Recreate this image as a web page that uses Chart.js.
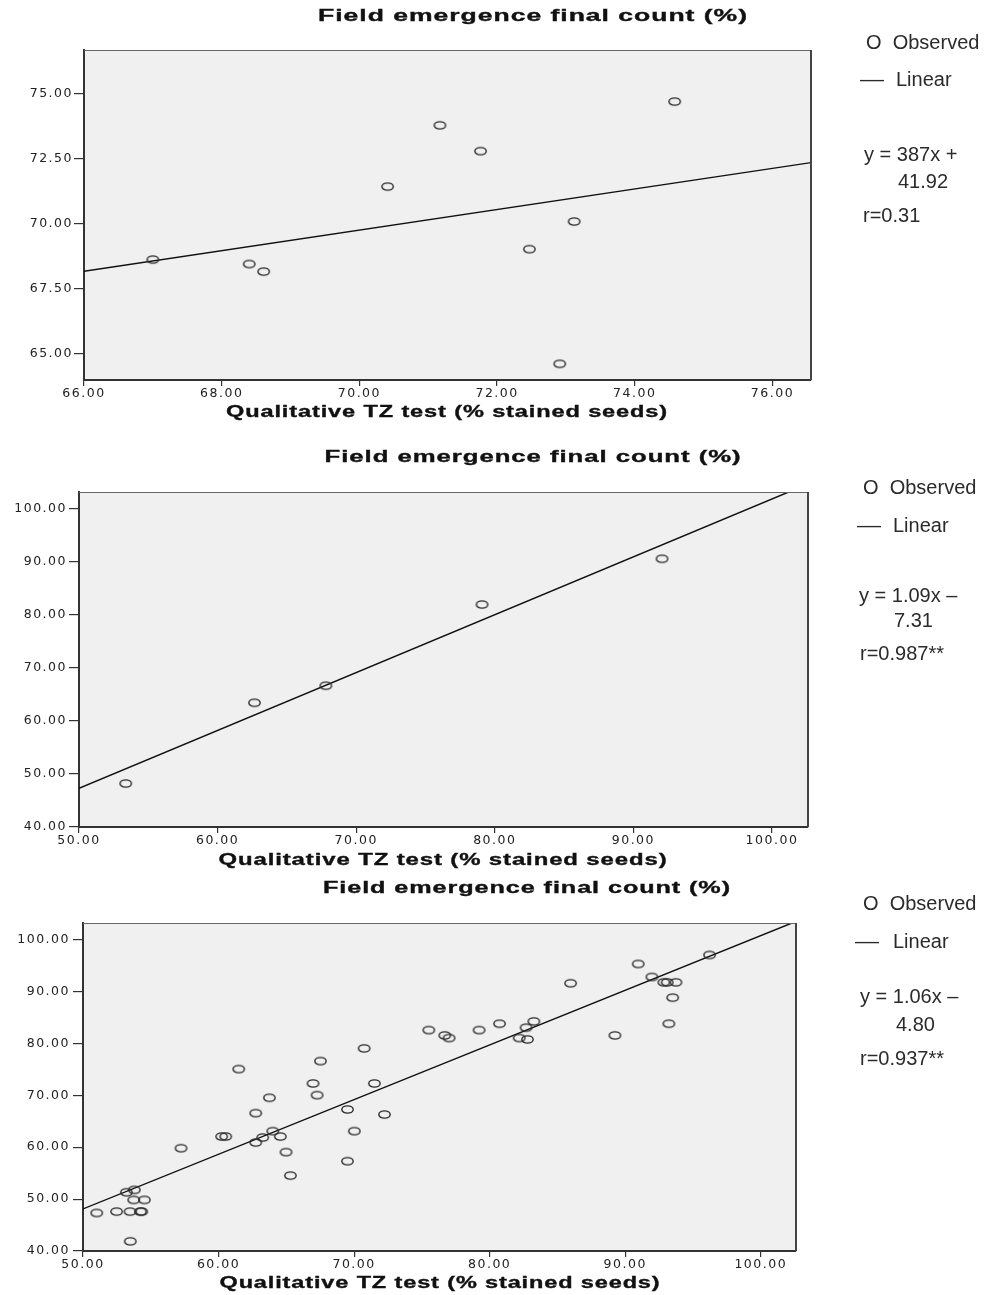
<!DOCTYPE html>
<html>
<head>
<meta charset="utf-8">
<script src="https://cdn.jsdelivr.net/npm/chart.js@4.4.1/dist/chart.umd.min.js"></script>
<style>
  body { margin: 0; background: #fff; }
  #page { position: relative; width: 988px; height: 1295px; overflow: hidden; }
  canvas { position: absolute; left: 0; }
  .note { position: absolute; font-family: "Liberation Sans", Arial, sans-serif; font-size: 20px; line-height: 24px; color: #2b2b2b; white-space: pre; }
  .dash { display: inline-block; transform: scaleX(1.2); transform-origin: left center; }
</style>
</head>
<body>
<div id="page">
  <canvas id="chart1" width="988" height="430" style="top:0px"></canvas>
  <canvas id="chart2" width="988" height="445" style="top:430px"></canvas>
  <canvas id="chart3" width="988" height="420" style="top:875px"></canvas>

  <div class="note" style="left:866px;top:30px">O  Observed</div>
  <div class="note" style="left:860px;top:67px"><span class="dash">—</span></div>
  <div class="note" style="left:896px;top:67px">Linear</div>
  <div class="note" style="left:864px;top:142px">y = 387x +</div>
  <div class="note" style="left:898px;top:169px">41.92</div>
  <div class="note" style="left:863px;top:203px">r=0.31</div>

  <div class="note" style="left:863px;top:475px">O  Observed</div>
  <div class="note" style="left:857px;top:513px"><span class="dash">—</span></div>
  <div class="note" style="left:893px;top:513px">Linear</div>
  <div class="note" style="left:859px;top:583px">y = 1.09x –</div>
  <div class="note" style="left:894px;top:608px">7.31</div>
  <div class="note" style="left:860px;top:641px">r=0.987**</div>

  <div class="note" style="left:863px;top:891px">O  Observed</div>
  <div class="note" style="left:855px;top:929px"><span class="dash">—</span></div>
  <div class="note" style="left:893px;top:929px">Linear</div>
  <div class="note" style="left:860px;top:984px">y = 1.06x –</div>
  <div class="note" style="left:896px;top:1012px">4.80</div>
  <div class="note" style="left:860px;top:1046px">r=0.937**</div>
</div>

<script>
// panel 1
const tz1 = [67.0, 68.40, 68.61, 70.41, 71.17, 71.76, 72.47, 73.12, 74.58, 72.91];
const fe1 = [68.62, 68.45, 68.16, 71.42, 73.77, 72.78, 69.02, 70.08, 74.68, 64.62];
const fitX1 = [66, 76.56];
const fitY1 = [68.17, 72.34];
const xTicks1 = [66, 68, 70, 72, 74, 76];
const yTicks1 = [65, 67.5, 70, 72.5, 75];
const xRange1 = [66, 76.56];
const yRange1 = [64.0, 76.66];

// panel 2
const tz2 = [53.37, 62.66, 67.81, 79.08, 92.07];
const fe2 = [48.2, 63.44, 66.65, 81.97, 90.6];
const fitX2 = [50, 101.2];
const fitY2 = [47.3, 103.2];

// panel 3
const tz3 = [51.01, 52.48, 53.20, 53.79, 53.47, 54.23, 54.33, 53.74, 54.53, 53.49,
  57.23, 60.23, 60.53, 61.49, 62.74, 62.74, 63.26, 63.75, 64.0, 64.56,
  64.98, 65.30, 66.97, 67.27, 67.52, 69.51, 69.51, 70.02, 70.74, 71.50,
  72.24, 75.51, 76.69, 77.01, 79.22, 80.73, 82.18, 82.69, 82.79, 83.26,
  85.97, 89.24, 90.96, 91.97, 92.85, 93.10, 93.74, 93.50, 93.22, 96.22];
const fe3 = [47.33, 47.59, 51.32, 51.77, 47.59, 47.59, 47.59, 49.84, 49.84, 41.86,
  59.81, 62.06, 62.06, 75.05, 66.56, 60.90, 61.86, 69.52, 63.09, 62.06,
  59.04, 54.53, 72.28, 70.03, 76.59, 67.27, 57.30, 63.09, 79.04, 72.28,
  66.30, 82.57, 81.54, 81.03, 82.57, 83.79, 81.03, 83.02, 80.77, 84.24,
  91.58, 81.54, 95.31, 92.80, 91.77, 91.77, 91.77, 88.81, 83.79, 97.04];
const fitX3 = [50, 102.3];
const fitY3 = [48.1, 103.2];

const xTicks23 = [50, 60, 70, 80, 90, 100];
const yTicks23 = [40, 50, 60, 70, 80, 90, 100];
const xRange23 = [50, 102.6];
const yRange23 = [40, 103.2];

const TITLE = "Field emergence final count (%)";
const XTITLE = "Qualitative TZ test (% stained seeds)";

function ring() {
  const c = document.createElement("canvas");
  c.width = 15;
  c.height = 11;
  const g = c.getContext("2d");
  g.strokeStyle = "#2a2a2a";
  g.lineWidth = 1.4;
  g.beginPath();
  g.ellipse(7.5, 5.5, 5.7, 3.6, 0, 0, Math.PI * 2);
  g.stroke();
  return c;
}
const ringImg = ring();

function stretchText(ctx, text, cx, cy, targetW) {
  ctx.save();
  ctx.font = "bold 16px 'Liberation Sans', Arial, sans-serif";
  ctx.letterSpacing = "0.6px";
  const w = ctx.measureText(text).width;
  ctx.translate(cx, cy);
  ctx.scale(targetW / w, 1);
  ctx.fillStyle = "#111";
  ctx.strokeStyle = "#111";
  ctx.lineWidth = 0.35;
  ctx.textAlign = "center";
  ctx.textBaseline = "middle";
  ctx.fillText(text, 0, 0);
  ctx.strokeText(text, 0, 0);
  ctx.restore();
}

function framePlugin(p) {
  return {
    id: "frame",
    beforeDraw(chart) {
      const { ctx, chartArea: a } = chart;
      ctx.fillStyle = "#f0f0f0";
      ctx.fillRect(a.left, a.top, a.right - a.left, a.bottom - a.top);
      ctx.letterSpacing = "1.5px";
    },
    afterDraw(chart) {
      const { ctx, chartArea: a } = chart;
      ctx.letterSpacing = "0px";
      ctx.save();
      ctx.strokeStyle = "#666";
      ctx.lineWidth = 1.2;
      ctx.beginPath();
      ctx.moveTo(a.left, a.top + 0.5);
      ctx.lineTo(a.right, a.top + 0.5);
      ctx.stroke();
      ctx.strokeStyle = "#444";
      ctx.lineWidth = 2;
      ctx.beginPath();
      ctx.moveTo(a.right, a.top);
      ctx.lineTo(a.right, a.bottom);
      ctx.stroke();
      ctx.restore();
      stretchText(ctx, TITLE, p.titleX, p.titleY, p.titleW);
      stretchText(ctx, XTITLE, p.xTitleX, p.xTitleY, p.xTitleW);
    },
  };
}

function axis(ticks, range, tickLen, pad, fit) {
  return {
    type: "linear",
    min: range[0],
    max: range[1],
    afterBuildTicks: (s) => { s.ticks = ticks.map((v) => ({ value: v })); },
    afterFit: fit,
    grid: { display: true, drawOnChartArea: false, drawTicks: true, tickLength: tickLen, color: "#333", lineWidth: 1.2 },
    border: { display: true, color: "#333", width: 2 },
    ticks: {
      color: "#222",
      font: { family: "'DejaVu Sans', sans-serif", size: 12.5 },
      padding: pad,
      maxRotation: 0,
      autoSkip: false,
      callback: (v) => Number(v).toFixed(2),
    },
  };
}

function makeChart(id, xs, ys, fitX, fitY, xTicks, yTicks, xRange, yRange, p) {
  const canvas = document.getElementById(id);
  const H = canvas.height;
  return new Chart(canvas, {
    type: "scatter",
    data: {
      datasets: [
        {
          label: "Observed",
          data: xs.map((x, i) => ({ x, y: ys[i] })),
          pointStyle: ringImg,
          pointRadius: 5,
          showLine: false,
        },
        {
          label: "Linear",
          data: fitX.map((x, i) => ({ x, y: fitY[i] })),
          showLine: true,
          borderColor: "#111",
          borderWidth: 1.4,
          pointRadius: 0,
          fill: false,
        },
      ],
    },
    options: {
      responsive: false,
      animation: false,
      layout: { padding: { left: 0, top: p.top, right: 988 - p.right, bottom: 0 } },
      plugins: { legend: { display: false }, tooltip: { enabled: false }, title: { display: false } },
      scales: {
        x: axis(xTicks, xRange, 6, 0, (s) => { s.height = H - p.bottom; }),
        y: axis(yTicks, yRange, 10, p.yPad, (s) => { s.width = p.left; }),
      },
    },
    plugins: [framePlugin(p)],
  });
}

makeChart("chart1", tz1, fe1, fitX1, fitY1, xTicks1, yTicks1, xRange1, yRange1, {
  left: 84, top: 50, right: 811, bottom: 380, yPad: 1,
  titleX: 533, titleY: 17, titleW: 430, xTitleX: 447, xTitleY: 413, xTitleW: 442,
});

makeChart("chart2", tz2, fe2, fitX2, fitY2, xTicks23, yTicks23, xRange23, yRange23, {
  left: 79, top: 62, right: 808, bottom: 397, yPad: 2,
  titleX: 533, titleY: 28, titleW: 417, xTitleX: 443, xTitleY: 431, xTitleW: 449,
});

makeChart("chart3", tz3, fe3, fitX3, fitY3, xTicks23, yTicks23, xRange23, yRange23, {
  left: 83, top: 48, right: 796, bottom: 376, yPad: 3,
  titleX: 527, titleY: 14, titleW: 408, xTitleX: 440, xTitleY: 409, xTitleW: 441,
});
</script>
</body>
</html>
